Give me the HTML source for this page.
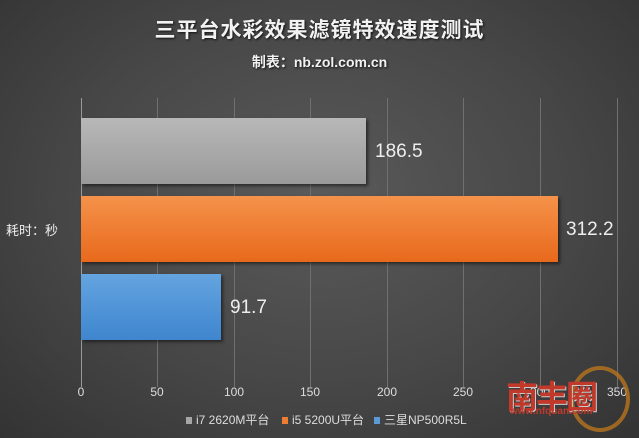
<!DOCTYPE html><html><head><style>
body{margin:0;width:639px;height:438px;overflow:hidden;font-family:"Liberation Sans","Noto Sans CJK SC",sans-serif;background:radial-gradient(ellipse at 50% 45%,#5a5a5a 0%,#474747 55%,#333 100%);position:relative}
.t{position:absolute;left:0;width:639px;text-align:center;color:#f2f2f2;font-weight:bold;text-shadow:1px 1px 2px #111}
.g{position:absolute;top:98px;height:289px;width:1px;background:#707070}
.b{position:absolute;left:81px;height:66px;box-shadow:2px 2px 3px rgba(0,0,0,.5)}
.v{position:absolute;color:#eee;font-size:19px}
.x{position:absolute;top:385px;color:#ddd;font-size:12px;width:40px;margin-left:-20px;text-align:center}
.l{position:absolute;top:411px;color:#ddd;font-size:12px}
.l i{display:inline-block;width:6px;height:7px;margin-right:4px}
</style></head><body>
<div class="t" style="top:14px;font-size:21px;letter-spacing:1px">三平台水彩效果滤镜特效速度测试</div>
<div class="t" style="top:52px;font-size:14px">制表：nb.zol.com.cn</div>
<div class="g" style="left:81px;background:#999"></div>
<div class="g" style="left:157px"></div><div class="g" style="left:234px"></div><div class="g" style="left:310px"></div><div class="g" style="left:387px"></div><div class="g" style="left:463px"></div><div class="g" style="left:540px"></div><div class="g" style="left:617px"></div>
<div class="b" style="top:118px;width:285px;background:linear-gradient(#b8b8b8,#9a9a9a)"></div>
<div class="b" style="top:196px;width:477px;background:linear-gradient(#f5924a,#e8691c)"></div>
<div class="b" style="top:274px;width:140px;background:linear-gradient(#64a4e0,#3f86cf)"></div>
<div class="v" style="left:375px;top:141px">186.5</div>
<div class="v" style="left:566px;top:219px">312.2</div>
<div class="v" style="left:230px;top:297px">91.7</div>
<div style="position:absolute;left:6px;top:220px;color:#eee;font-size:13px">耗时：秒</div>
<div class="x" style="left:81px">0</div><div class="x" style="left:157px">50</div><div class="x" style="left:234px">100</div><div class="x" style="left:310px">150</div><div class="x" style="left:387px">200</div><div class="x" style="left:463px">250</div><div class="x" style="left:540px">300</div><div class="x" style="left:617px">350</div>
<div class="l" style="left:186px"><i style="background:#a6a6a6"></i>i7 2620M平台</div>
<div class="l" style="left:282px"><i style="background:#ed7d31"></i>i5 5200U平台</div>
<div class="l" style="left:374px"><i style="background:#5b9bd5"></i>三星NP500R5L</div>
<div style="position:absolute;left:570px;top:366px;width:52px;height:58px;border:4px solid #b8741e;border-radius:50%;opacity:.8"></div>
<div style="position:absolute;left:506px;top:372px;color:#c0392b;font-size:32px;font-weight:bold;letter-spacing:-2px;text-shadow:1px 1px 0 #ccc">南丰圈</div>
<div style="position:absolute;left:510px;top:406px;color:#c0392b;font-size:10px;font-weight:bold">www.nfquan.com</div>
</body></html>
